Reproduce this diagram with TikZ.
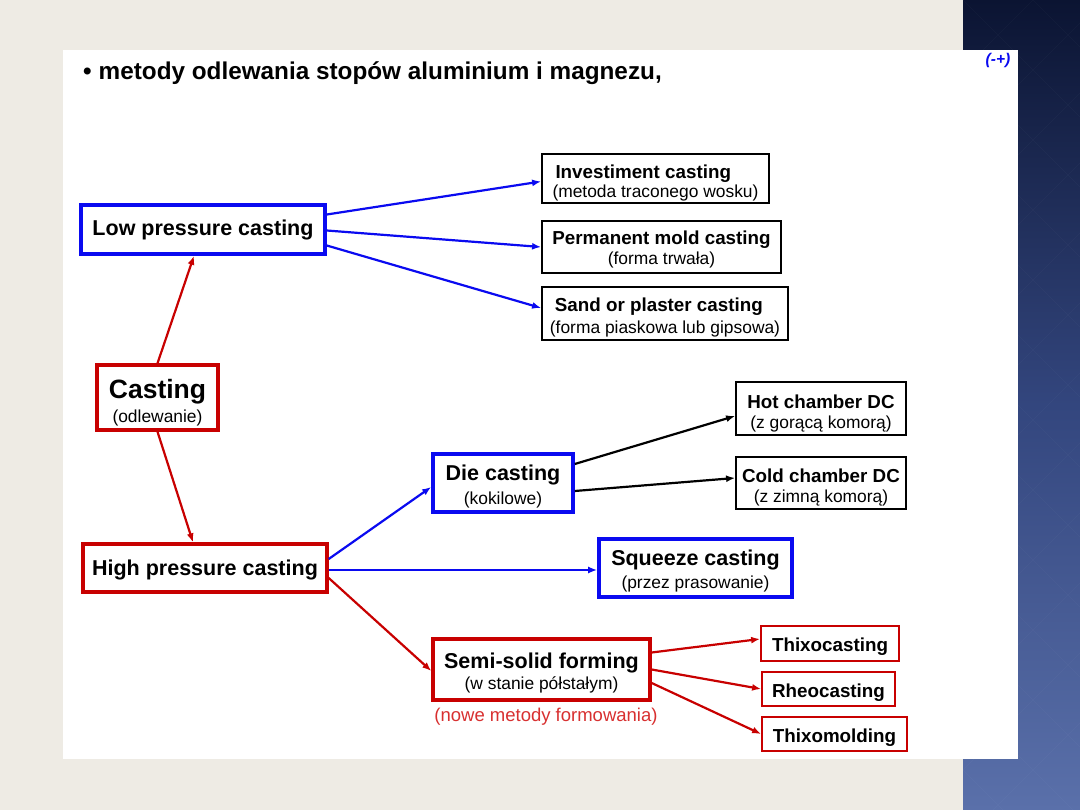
\documentclass[tikz,border=0pt]{standalone}
\usepackage{fontspec}
\setmainfont{Liberation Sans}
\usetikzlibrary{arrows.meta}
\definecolor{bgbeige}{HTML}{EEEBE4}
\definecolor{stripTop}{HTML}{0B1432}
\definecolor{stripMid}{HTML}{33467E}
\definecolor{stripBot}{HTML}{5A70AA}
\definecolor{myblue}{HTML}{0A0AF0}
\definecolor{myred}{HTML}{C80000}
\definecolor{lightred}{HTML}{D83030}
\newcommand{\bigb}{\fontsize{21.5}{20}\selectfont\bfseries}
\newcommand{\midb}{\fontsize{18.8}{20}\selectfont\bfseries}
\newcommand{\subt}{\fontsize{17.4}{20}\selectfont\mdseries}
\newcommand{\dn}[1]{\rule{0pt}{#1pt}}
\tikzset{
  box/.style={draw, fill=white, inner sep=0pt, align=center, text=black, font=\fontsize{17.4}{20}\selectfont},
  bluebox/.style={box, draw=myblue, line width=3.6pt},
  redbox/.style={box, draw=myred, line width=3.4pt},
  blackbox/.style={box, draw=black, line width=1.8pt},
  thinred/.style={box, draw=myred, line width=1.8pt},
  conn/.style={line width=2.2pt, -{Latex[length=9pt,width=7pt]}},
  bluearr/.style={conn, draw=myblue, fill=myblue},
  redarr/.style={conn, draw=myred, fill=myred},
  blackarr/.style={conn, draw=black, fill=black},
}
\begin{document}
\begin{tikzpicture}[x=1pt,y=-1pt]
\useasboundingbox (0,0) rectangle (1080,810);
\fill[bgbeige] (0,0) rectangle (1080,810);
\shade[top color=stripTop, bottom color=stripBot, middle color=stripMid] (963,0) rectangle (1080,810);
\begin{scope}
\clip (963,0) rectangle (1080,810);
\foreach \i in {-12,...,12} {
  \draw[white, opacity=0.025, line width=1pt] (963+70*\i,0) -- ++(810,810);
  \draw[white, opacity=0.025, line width=1pt] (963+70*\i,0) -- ++(-810,810);
}
\end{scope}
\fill[white] (63,50) rectangle (1018,759);

\node[anchor=west, inner sep=0pt, font=\fontsize{24.3}{26}\selectfont\bfseries] (title) at (83,73) {•\hspace{7pt}metody odlewania stopów aluminium i magnezu,};
\node[inner sep=0pt, text=myblue, font=\fontsize{15.5}{17}\selectfont\bfseries\itshape] (pm) at (998,60) {(-+)};

\node[bluebox, minimum width=244pt, minimum height=49pt] (lp) at (203,229.5) {\bigb Low pressure casting};
\node[blackbox, minimum width=227pt, minimum height=49pt, align=left] (inv) at (655.5,178.5) {\midb\dn{22.5}\hspace{3pt}Investiment casting\\[-0.5pt]\subt (metoda traconego wosku)};
\node[blackbox, minimum width=239pt, minimum height=52pt] (perm) at (661.5,247) {\midb\dn{19.5}Permanent mold casting\\[0pt]\subt (forma trwała)};
\node[blackbox, minimum width=246pt, minimum height=53pt, align=left] (sand) at (665,313.5) {\midb\dn{21.5}\hspace{5pt}Sand or plaster casting\\[2pt]\subt (forma piaskowa lub gipsowa)};

\node[redbox, minimum width=121pt, minimum height=65pt] (cast) at (157.5,397.5) {\fontsize{26.5}{20}\selectfont\bfseries\dn{30}Casting\\[4pt]\subt (odlewanie)};
\node[redbox, minimum width=244pt, minimum height=48pt] (hp) at (205,568) {\bigb\dn{20.5}High pressure casting};

\node[bluebox, minimum width=140pt, minimum height=58pt] (die) at (503,483) {\bigb\dn{23.5}Die casting\\[4pt]\subt (kokilowe)};
\node[blackbox, minimum width=170pt, minimum height=53pt] (hot) at (821,408.5) {\midb\dn{23.5}Hot chamber DC\\[0pt]\subt (z gorącą komorą)};
\node[blackbox, minimum width=170pt, minimum height=52pt] (cold) at (821,483) {\midb\dn{22.5}Cold chamber DC\\[0pt]\subt (z zimną komorą)};
\node[bluebox, minimum width=193pt, minimum height=58pt] (sq) at (695.5,568) {\bigb\dn{21.5}Squeeze casting\\[3pt]\subt (przez prasowanie)};
\node[redbox, minimum width=217pt, minimum height=61pt] (semi) at (541.5,669.5) {\bigb\dn{22.5}Semi-solid forming\\[1pt]\subt (w stanie półstałym)};
\node[inner sep=0pt, text=lightred, font=\fontsize{18.5}{20}\selectfont] (nowe) at (546,717) {(nowe metody formowania)};

\node[thinred, minimum width=138pt, minimum height=35pt] (thixo) at (830,643.5) {\midb\dn{20}Thixocasting};
\node[thinred, minimum width=133pt, minimum height=34pt] (rheo) at (828.5,689) {\midb\dn{20}Rheocasting};
\node[thinred, minimum width=145pt, minimum height=34pt] (thixom) at (834.5,734) {\midb\dn{20.5}Thixomolding};

\draw[bluearr] ([yshift=15pt]lp.east) -- ([yshift=-3pt]inv.west);
\draw[bluearr] ([yshift=-1pt]lp.east) -- (perm.west);
\draw[bluearr] ([yshift=-16pt]lp.east) -- ([yshift=5.5pt]sand.west);
\draw[redarr] (cast.north) -- ([xshift=-9pt]lp.south);
\draw[redarr] (cast.south) -- ([xshift=-12pt]hp.north);
\draw[bluearr] ([yshift=9pt]hp.east) -- ([yshift=-4pt]die.west);
\draw[bluearr] ([yshift=-2pt]hp.east) -- ([yshift=-2pt]sq.west);
\draw[redarr] ([yshift=-10pt]hp.east) -- ([yshift=-1.5pt]semi.west);
\draw[blackarr] ([yshift=19pt]die.east) -- ([yshift=-7.5pt]hot.west);
\draw[blackarr] ([yshift=-8pt]die.east) -- ([yshift=5pt]cold.west);
\draw[redarr] ([yshift=17pt]semi.east) -- ([yshift=4.5pt]thixo.west);
\draw[redarr] (semi.east) -- (rheo.west);
\draw[redarr] ([yshift=-13.5pt]semi.east) -- (thixom.west);
\end{tikzpicture}
\end{document}
